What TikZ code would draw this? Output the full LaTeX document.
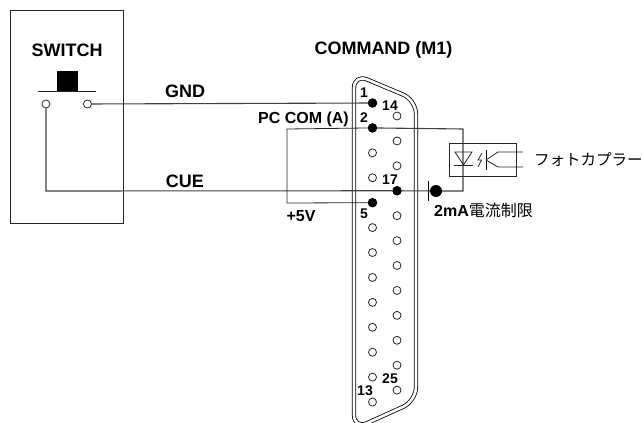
\documentclass[tikz,border=0pt]{standalone}
\usepackage{fontspec}
\setmainfont{Liberation Sans}
\newfontfamily\cjk{Noto Sans CJK JP}
\tikzset{
 wire/.style={line width=1.1pt,black!75},
 thinline/.style={line width=0.8pt,black!85},
 pinopen/.style={circle,draw,thinline,fill=white,minimum size=8pt,inner sep=0pt},
 pinfull/.style={circle,fill=black,minimum size=9.5pt,inner sep=0pt},
 lab/.style={font=\bfseries\fontsize{18}{20}\selectfont,inner sep=0pt},
 lbs/.style={font=\bfseries\fontsize{16}{18}\selectfont,inner sep=0pt},
 num/.style={font=\bfseries\fontsize{14}{16}\selectfont,inner sep=0pt},
}
\begin{document}
\begin{tikzpicture}[x=1pt,y=-1pt]
 \useasboundingbox (0,0) rectangle (643,423);
 \node[draw,thinline,minimum width=113pt,minimum height=213pt,inner sep=0pt] (swbox) at (67,116.5) {};
 \node[lab] (swlab) at (67,50) {SWITCH};
 \node[fill=black,minimum width=21pt,minimum height=20pt,inner sep=0pt] (button) at (67.5,81) {};
 \draw[thinline] (38,91) -- (96,91);
 \node[pinopen] (swa) at (46,104) {};
 \node[pinopen] (swb) at (87.5,104) {};
 \node[lab] (conlab) at (383.5,50) {COMMAND (M1)};
 \draw[line width=0.8pt,double,double distance=2.6pt,rounded corners=14pt]
  (354,74) -- (416,100) -- (416,401) -- (354,429) -- cycle;
 \foreach \i in {1,...,13} \node[pinopen] (pin\i) at (372.5,103+24.92*\i-24.92) {};
 \foreach \i in {14,...,25} \node[pinopen] (pin\i) at (397,116+24.92*\i-348.88) {};
 \foreach \i in {1,2,5,17} \node[pinfull] at (pin\i) {};
 \node[num] (n1) at (364,93) {1};
 \node[num] (n14) at (390,106) {14};
 \node[num] (n2) at (364,118) {2};
 \node[num] (n5) at (364,214) {5};
 \node[num] (n17) at (390,180) {17};
 \node[num] (n25) at (390,379) {25};
 \node[num] (n13) at (365,391) {13};
 \coordinate (kinkA) at (46,191);
 \coordinate (kinkB) at (463,191);
 \coordinate (kinkC) at (463,129);
 \coordinate (loopA) at (287,129);
 \coordinate (loopB) at (287,203);
 \node[circle,fill=black,minimum size=12pt,inner sep=0pt] (dled) at (436,191) {};
 \draw[line width=1.6pt] (428.5,181) -- (428.5,201);
 \draw[wire] (swb) -- (pin1);
 \draw[wire] (swa) -- (kinkA) -- (pin17) -- (dled) -- (kinkB) -- (kinkC) -- (pin2);
 \draw[thinline] (pin2) -- (loopA) -- (loopB) -- (pin5);
 \node[lab] (gnd) at (185,91) {GND};
 \node[lab] (cue) at (185,181) {CUE};
 \node[lbs] (pccom) at (303.5,119) {PC COM (A)};
 \node[lbs] (plus) at (301,216) {+5V};
 \node[draw,thinline,minimum width=67pt,minimum height=33pt,inner sep=0pt] (opto) at (482.5,159.5) {};
 \draw[thinline] (455,152) -- (472,152) -- (463.5,165) -- cycle;
 \draw[thinline] (454,165.5) -- (473,165.5);
 \draw[thinline] (482,153) -- (478,160) -- (481.5,160) -- (478,167);
 \draw[line width=1pt] (486,150) -- (486,170);
 \draw[thinline] (486,160) -- (498,152) -- (523,152);
 \draw[thinline] (486,160) -- (498,167) -- (523,167);
 \node[anchor=west,inner sep=0pt,font=\cjk\fontsize{15.5}{18}\selectfont] (optolab) at (534,160) {フォトカプラー};
 \node[anchor=west,inner sep=0pt,font=\bfseries\fontsize{16}{18}\selectfont] (limit) at (434,210) {2mA{\cjk\mdseries 電流制限}};
\end{tikzpicture}
\end{document}
